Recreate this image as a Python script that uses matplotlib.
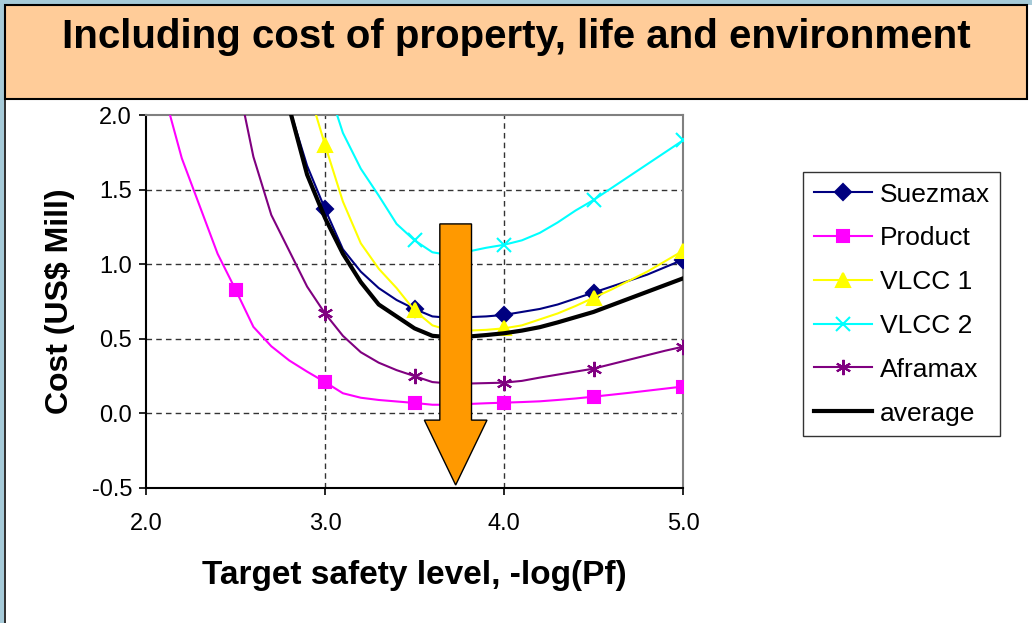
import numpy as np
import matplotlib
matplotlib.use("Agg")
import matplotlib.pyplot as plt
from matplotlib.patches import Rectangle, FancyArrow

plt.rcParams['font.family'] = ['Liberation Sans', 'DejaVu Sans']

# target safety level grid, -log(Pf)
safety = np.round(np.arange(2.0, 5.01, 0.1), 1)

nan = np.nan
suezmax = [nan, nan, nan, nan, nan, nan, nan, nan, 2.05, 1.66,
           1.37, 1.10, 0.95, 0.84, 0.76, 0.70, 0.65, 0.64, 0.645, 0.65,
           0.66, 0.68, 0.70, 0.73, 0.77, 0.81, 0.85, 0.89, 0.93, 0.98, 1.03]
product = [nan, 2.15, 1.71, 1.39, 1.07, 0.83, 0.58, 0.45, 0.355, 0.28,
           0.21, 0.135, 0.105, 0.09, 0.08, 0.07, 0.058, 0.058, 0.063, 0.068,
           0.072, 0.076, 0.081, 0.09, 0.10, 0.112, 0.125, 0.138, 0.152, 0.166, 0.18]
vlcc1 = [nan, nan, nan, nan, nan, nan, nan, nan, nan, 2.2,
         1.80, 1.42, 1.14, 0.97, 0.84, 0.69, 0.59, 0.555, 0.555, 0.56,
         0.57, 0.59, 0.63, 0.67, 0.72, 0.775, 0.83, 0.89, 0.95, 1.02, 1.09]
vlcc2 = [nan, nan, nan, nan, nan, nan, nan, nan, nan, nan,
         2.25, 1.88, 1.64, 1.46, 1.27, 1.16, 1.08, 1.06, 1.085, 1.11,
         1.13, 1.16, 1.21, 1.28, 1.36, 1.43, 1.51, 1.59, 1.67, 1.75, 1.83]
aframax = [nan, nan, nan, nan, nan, 2.3, 1.72, 1.33, 1.09, 0.85,
           0.67, 0.52, 0.41, 0.34, 0.29, 0.25, 0.21, 0.20, 0.20, 0.203,
           0.206, 0.218, 0.24, 0.26, 0.28, 0.30, 0.33, 0.36, 0.39, 0.42, 0.447]
average = [nan, nan, nan, nan, nan, nan, nan, nan, 2.05, 1.60,
           1.31, 1.07, 0.88, 0.73, 0.65, 0.57, 0.52, 0.51, 0.515, 0.525,
           0.537, 0.555, 0.578, 0.61, 0.645, 0.68, 0.725, 0.77, 0.815, 0.86, 0.905]

# markers only every 0.5 on the safety axis
mark_idx = [5, 10, 15, 20, 25, 30]

W, H = 1032, 623
fig = plt.figure(figsize=(W / 100, H / 100), dpi=100)
fig.patch.set_facecolor('white')

# slide frame: blue strip, peach title band
fig.patches.append(Rectangle((0, 1 - 5 / H), 1, 5 / H, transform=fig.transFigure,
                             facecolor='#a6cad8', edgecolor='none', zorder=0))
fig.patches.append(Rectangle((0, 0), 4 / W, 1, transform=fig.transFigure,
                             facecolor='#a6cad8', edgecolor='none', zorder=0))
fig.patches.append(Rectangle((4 / W, 0), 1.5 / W, 1 - 99 / H, transform=fig.transFigure,
                             facecolor='#333333', edgecolor='none', zorder=0))
fig.patches.append(Rectangle((5 / W, 1 - 99 / H), 1022 / W, 94 / H, transform=fig.transFigure,
                             facecolor='#ffcc99', edgecolor='black', linewidth=1.5, zorder=1))
fig.text(516 / W, 1 - 37 / H, 'Including cost of property, life and environment',
         ha='center', va='center', fontsize=29, fontweight='bold')

ax = fig.add_axes([146 / W, 135 / H, 537 / W, 373 / H])

series = [
    ('Suezmax', suezmax, '#000080', 'D', 8, 1.5),
    ('Product', product, '#ff00ff', 's', 9, 1.5),
    ('VLCC 1', vlcc1, '#ffff00', '^', 10, 1.5),
    ('VLCC 2', vlcc2, '#00ffff', 'x', 10, 1.5),
    ('Aframax', aframax, '#800080', (6, 2, 0), 11, 1.5),
]
for name, vals, col, mk, ms, lw in series:
    ax.plot(safety, vals, color=col, lw=lw, marker=mk, ms=ms, mew=1.5,
            markevery=mark_idx, label=name, clip_on=True, zorder=3)
ax.plot(safety, average, color='black', lw=3, label='average', zorder=4)

ax.set_xlim(2.0, 5.0)
ax.set_ylim(-0.5, 2.0)
ax.set_xticks([2.0, 3.0, 4.0, 5.0])
ax.set_yticks([-0.5, 0.0, 0.5, 1.0, 1.5, 2.0])
ax.xaxis.set_major_formatter(plt.FormatStrFormatter('%.1f'))
ax.yaxis.set_major_formatter(plt.FormatStrFormatter('%.1f'))
ax.tick_params(direction='out', length=5, width=1.2, labelsize=17, pad=5)
ax.tick_params(axis='x', pad=13)
for x in [3.0, 4.0]:
    ax.axvline(x, color='#333333', lw=1, ls=(0, (4, 3)), zorder=1)
for y in [0.0, 0.5, 1.0, 1.5]:
    ax.axhline(y, color='#333333', lw=1, ls=(0, (4, 3)), zorder=1)
ax.spines['top'].set_color('#808080')
ax.spines['right'].set_color('#808080')
for s in ax.spines.values():
    s.set_linewidth(1.5)

ax.set_xlabel('Target safety level, -log(Pf)', fontsize=24, fontweight='bold', labelpad=18)
ax.set_ylabel('Cost (US$ Mill)', fontsize=23, fontweight='bold', labelpad=12)

# big downward arrow marking the optimum
arrow_x, arrow_top, arrow_tip = 3.73, 1.27, -0.48
ax.add_patch(FancyArrow(arrow_x, arrow_top, 0, arrow_tip - arrow_top, width=0.177,
                        head_width=0.35, head_length=0.435, length_includes_head=True,
                        facecolor='#ff9900', edgecolor='black', lw=1, zorder=6))

handles, labels = ax.get_legend_handles_labels()
leg = fig.legend(handles, labels, loc='upper left', bbox_to_anchor=(803 / W, 1 - 172 / H),
                 fontsize=19, frameon=True, fancybox=False, edgecolor='black',
                 handlelength=2.2, handletextpad=0.3, labelspacing=0.75,
                 borderpad=0.4, borderaxespad=0)
leg.get_frame().set_linewidth(1.0)

fig.savefig('out.png', dpi=100)
